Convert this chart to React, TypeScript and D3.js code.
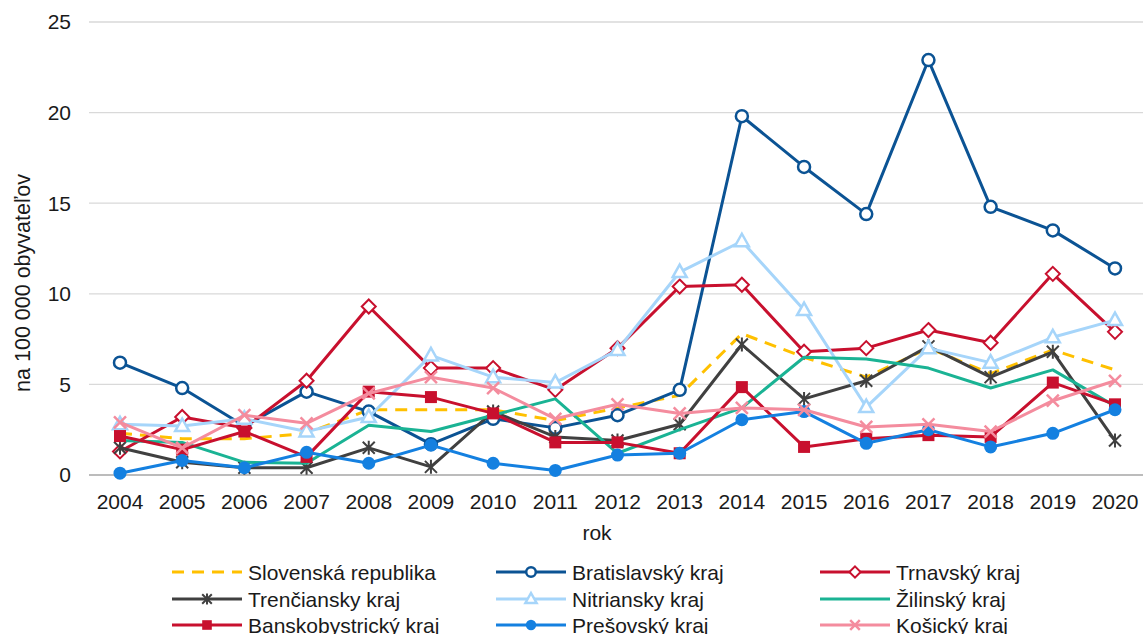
import * as d3 from "d3";

const years = ["2004", "2005", "2006", "2007", "2008", "2009", "2010", "2011", "2012", "2013", "2014", "2015", "2016", "2017", "2018", "2019", "2020"];
const yTicks = [0, 5, 10, 15, 20, 25];

const slovensko = [2.3, 2.0, 2.0, 2.3, 3.6, 3.6, 3.6, 3.0, 3.7, 4.4, 7.8, 6.5, 5.4, 7.0, 5.6, 6.9, 5.8];
const bratislava = [6.2, 4.8, 2.7, 4.6, 3.5, 1.7, 3.1, 2.6, 3.3, 4.7, 19.8, 17.0, 14.4, 22.9, 14.8, 13.5, 11.4];
const trnava = [1.3, 3.2, 2.6, 5.2, 9.3, 5.9, 5.9, 4.7, 7.0, 10.4, 10.5, 6.8, 7.0, 8.0, 7.3, 11.1, 7.9];
const trencin = [1.5, 0.7, 0.4, 0.4, 1.5, 0.45, 3.5, 2.1, 1.9, 2.8, 7.2, 4.2, 5.2, 7.1, 5.4, 6.8, 1.9];
const nitra = [2.8, 2.7, 3.1, 2.4, 3.2, 6.6, 5.4, 5.1, 6.9, 11.2, 12.9, 9.1, 3.75, 7.0, 6.2, 7.6, 8.55];
const zilina = [1.9, 1.8, 0.7, 0.65, 2.75, 2.4, 3.3, 4.2, 1.2, 2.5, 3.7, 6.5, 6.4, 5.9, 4.8, 5.8, 3.8];
const bystrica = [2.15, 1.4, 2.4, 1.0, 4.6, 4.3, 3.4, 1.8, 1.8, 1.2, 4.85, 1.55, 2.0, 2.2, 2.1, 5.1, 3.9];
const presov = [0.1, 0.8, 0.4, 1.25, 0.65, 1.65, 0.65, 0.25, 1.1, 1.2, 3.05, 3.5, 1.75, 2.5, 1.55, 2.3, 3.6];
const kosice = [2.9, 1.5, 3.3, 2.85, 4.5, 5.4, 4.8, 3.1, 3.9, 3.4, 3.7, 3.6, 2.65, 2.8, 2.4, 4.1, 5.2];

type Marker = "none" | "circle" | "diamond" | "star" | "triangle" | "square" | "dot" | "x";

const series: { name: string; values: number[]; color: string; marker: Marker; dashed?: boolean }[] = [
  { name: "Slovenská republika", values: slovensko, color: "#FFC000", marker: "none", dashed: true },
  { name: "Bratislavský kraj", values: bratislava, color: "#0B5394", marker: "circle" },
  { name: "Trnavský kraj", values: trnava, color: "#C8102E", marker: "diamond" },
  { name: "Trenčiansky kraj", values: trencin, color: "#404040", marker: "star" },
  { name: "Nitriansky kraj", values: nitra, color: "#A6D5FA", marker: "triangle" },
  { name: "Žilinský kraj", values: zilina, color: "#1AB394", marker: "none" },
  { name: "Banskobystrický kraj", values: bystrica, color: "#C8102E", marker: "square" },
  { name: "Prešovský kraj", values: presov, color: "#1480E0", marker: "dot" },
  { name: "Košický kraj", values: kosice, color: "#F48C9E", marker: "x" },
];

const width = 1143;
const height = 634;
const margin = { top: 22, right: 0, bottom: 159, left: 89 };
const font = "Liberation Sans, Arial, sans-serif";

function MarkerShape({ type, x, y, color, size = 1 }: { type: Marker; x: number; y: number; color: string; size?: number }) {
  const s = size;
  switch (type) {
    case "circle":
      return <circle cx={x} cy={y} r={6 * s} fill="white" stroke={color} strokeWidth={2.5} />;
    case "diamond":
      return <path d={`M${x},${y - 7 * s}L${x + 7 * s},${y}L${x},${y + 7 * s}L${x - 7 * s},${y}Z`} fill="white" stroke={color} strokeWidth={2} />;
    case "triangle":
      return <path d={`M${x},${y - 7.5 * s}L${x + 7 * s},${y + 5 * s}L${x - 7 * s},${y + 5 * s}Z`} fill="white" stroke={color} strokeWidth={2.5} />;
    case "square":
      return <rect x={x - 6 * s} y={y - 6 * s} width={12 * s} height={12 * s} fill={color} />;
    case "dot":
      return <circle cx={x} cy={y} r={6.5 * s} fill={color} />;
    case "x":
      return (
        <path d={`M${x - 6 * s},${y - 6 * s}L${x + 6 * s},${y + 6 * s}M${x - 6 * s},${y + 6 * s}L${x + 6 * s},${y - 6 * s}`} stroke={color} strokeWidth={2.5} />
      );
    case "star":
      return (
        <path
          d={`M${x - 6 * s},${y - 6 * s}L${x + 6 * s},${y + 6 * s}M${x - 6 * s},${y + 6 * s}L${x + 6 * s},${y - 6 * s}M${x},${y - 7 * s}L${x},${y + 7 * s}`}
          stroke={color}
          strokeWidth={2}
        />
      );
    default:
      return null;
  }
}

export default function App() {
  const x = d3.scalePoint<string>().domain(years).range([120, 1115]);
  const y = d3.scaleLinear().domain([0, 25]).range([height - margin.bottom, margin.top]);
  const line = d3.line<number>((d, i) => x(years[i]) as number, (d) => y(d));

  const legendCols = [172, 496, 820];
  const legendRows = [572, 599, 625];

  return (
    <svg width={width} height={height} style={{ position: "absolute", left: 0, top: 0, background: "white" }} fontFamily={font}>
      {/* gridlines */}
      {yTicks.map((t) => (
        <g key={t}>
          <line x1={margin.left} x2={width} y1={y(t)} y2={y(t)} stroke={t === 0 ? "#A6A6A6" : "#D9D9D9"} strokeWidth={1.3} />
          <text x={71} y={y(t)} dy="0.35em" textAnchor="end" fontSize={21} fill="#1a1a1a">
            {t}
          </text>
        </g>
      ))}

      {/* x tick labels */}
      {years.map((yr) => (
        <text key={yr} x={x(yr)} y={509} textAnchor="middle" fontSize={21} fill="#1a1a1a">
          {yr}
        </text>
      ))}

      <text x={597} y={540} textAnchor="middle" fontSize={21} fill="#1a1a1a">
        rok
      </text>
      <text transform="translate(30,283) rotate(-90)" textAnchor="middle" fontSize={21.5} fill="#1a1a1a">
        na 100 000 obyvateľov
      </text>

      {/* lines */}
      {series.map((s) => (
        <g key={s.name}>
          <path
            d={line(s.values) || undefined}
            fill="none"
            stroke={s.color}
            strokeWidth={3}
            strokeLinejoin="round"
            strokeDasharray={s.dashed ? "12,8" : undefined}
          />
          {s.values.map((v, i) => (
            <MarkerShape key={i} type={s.marker} x={x(years[i]) as number} y={y(v)} color={s.color} />
          ))}
        </g>
      ))}

      {/* legend */}
      {series.map((s, i) => {
        const cx = legendCols[i % 3];
        const cy = legendRows[Math.floor(i / 3)];
        return (
          <g key={s.name}>
            <line x1={cx} x2={cx + 70} y1={cy} y2={cy} stroke={s.color} strokeWidth={3} strokeDasharray={s.dashed ? "12,8" : undefined} />
            <MarkerShape type={s.marker} x={cx + 35} y={cy} color={s.color} size={0.8} />
            <text x={cx + 76} y={cy} dy="0.36em" fontSize={21} fill="#1a1a1a">
              {s.name}
            </text>
          </g>
        );
      })}
    </svg>
  );
}
